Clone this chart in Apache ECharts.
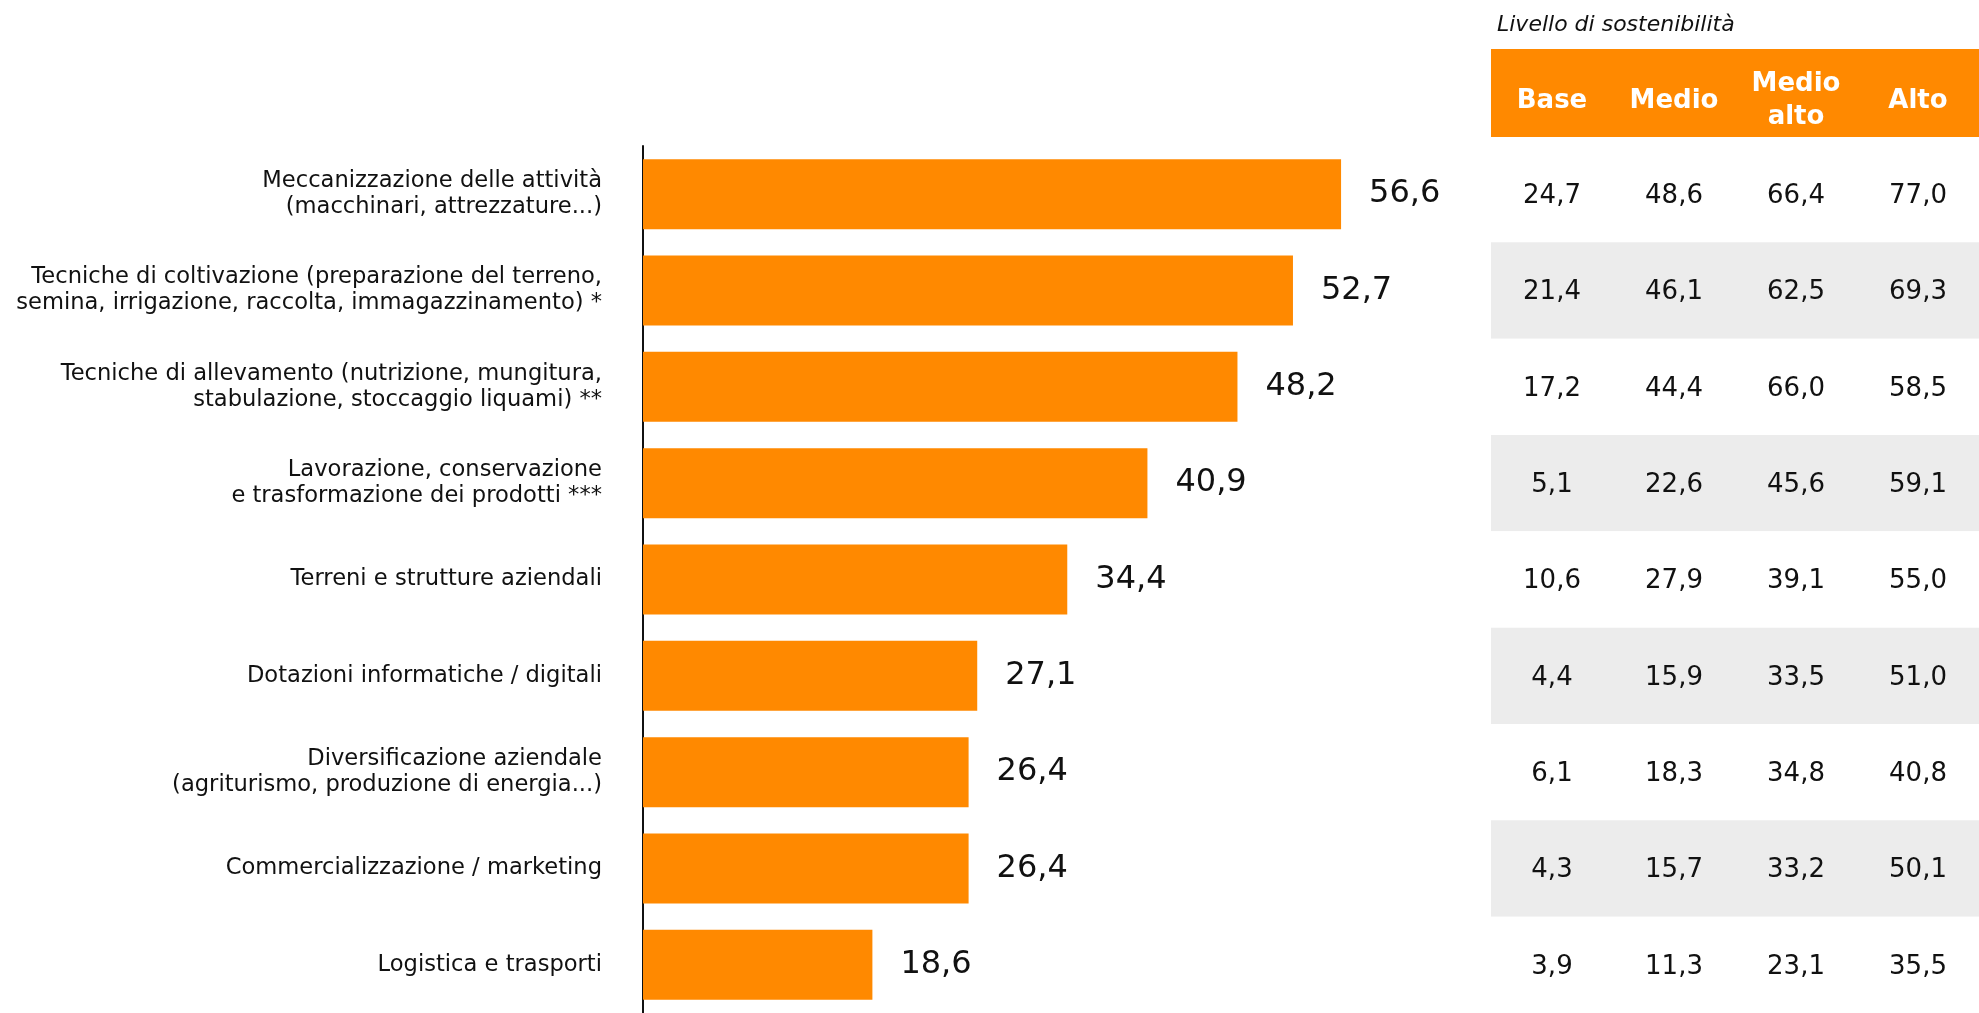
<!DOCTYPE html>
<html lang="it">
<head>
<meta charset="utf-8">
<title>Investimenti per area di intervento</title>
<script src="https://cdn.jsdelivr.net/npm/echarts@6/dist/echarts.min.js"></script>
<style>
  html, body { margin: 0; padding: 0; background: #ffffff; }
  #chart { width: 1979px; height: 1013px; }
</style>
</head>
<body>
<div id="chart"></div>
<script>
// Aree di intervento (dall'alto verso il basso)
const categories = [
  'Meccanizzazione delle attività\n(macchinari, attrezzature...)',
  'Tecniche di coltivazione (preparazione del terreno,\nsemina, irrigazione, raccolta, immagazzinamento) *',
  'Tecniche di allevamento (nutrizione, mungitura,\nstabulazione, stoccaggio liquami) **',
  'Lavorazione, conservazione\ne trasformazione dei prodotti ***',
  'Terreni e strutture aziendali',
  'Dotazioni informatiche / digitali',
  'Diversificazione aziendale\n(agriturismo, produzione di energia...)',
  'Commercializzazione / marketing',
  'Logistica e trasporti'
];

// Valore complessivo (%)
const totalValues = [56.6, 52.7, 48.2, 40.9, 34.4, 27.1, 26.4, 26.4, 18.6];

// Livello di sostenibilità: colonne della tabella
const levelLabels = ['Base', 'Medio', 'Medio\nalto', 'Alto'];
const baseValues = [24.7, 21.4, 17.2, 5.1, 10.6, 4.4, 6.1, 4.3, 3.9];
const medioValues = [48.6, 46.1, 44.4, 22.6, 27.9, 15.9, 18.3, 15.7, 11.3];
const medioAltoValues = [66.4, 62.5, 66.0, 45.6, 39.1, 33.5, 34.8, 33.2, 23.1];
const altoValues = [77.0, 69.3, 58.5, 59.1, 55.0, 51.0, 40.8, 50.1, 35.5];

const tableTitle = 'Livello di sostenibilità';

const ORANGE = '#ff8900';
const TEXT = '#111111';
const FONT = '"DejaVu Sans", sans-serif';

const fmt = v => v.toFixed(1).replace('.', ',');

// Celle della tabella come punti [colonna, riga, valore]
const levelColumns = [baseValues, medioValues, medioAltoValues, altoValues];
const tableCells = [];
levelColumns.forEach((col, ci) => {
  col.forEach((v, ri) => tableCells.push([ci, ri, v]));
});

const chart = echarts.init(document.getElementById('chart'), null, { renderer: 'canvas' });

chart.setOption({
  backgroundColor: '#ffffff',
  animation: false,
  textStyle: { fontFamily: FONT },
  title: {
    text: tableTitle,
    left: 1492,
    top: 9,
    textStyle: { fontFamily: FONT, fontSize: 22, fontStyle: 'italic', fontWeight: 'normal', color: TEXT }
  },
  graphic: [{
    type: 'rect',
    left: 1491,
    top: 49,
    z: -1,
    shape: { width: 488, height: 88 },
    style: { fill: ORANGE }
  }],
  grid: [
    { left: 643, top: 146, width: 740, height: 873, containLabel: false },
    { left: 1491, top: 146, width: 496, height: 873, containLabel: false }
  ],
  xAxis: [
    {
      gridIndex: 0, type: 'value', min: 0, max: 60, show: false
    },
    {
      gridIndex: 1, type: 'category', data: levelLabels, position: 'top', z: 10,
      axisLine: { show: false }, axisTick: { show: false }, splitLine: { show: false },
      axisLabel: {
        color: '#ffffff', fontFamily: FONT, fontSize: 26, fontWeight: 'bold',
        lineHeight: 33, margin: 45, verticalAlign: 'middle', align: 'center'
      }
    }
  ],
  yAxis: [
    {
      gridIndex: 0, type: 'category', data: categories, inverse: true,
      axisLine: { show: true, lineStyle: { color: '#111111', width: 2 } },
      axisTick: { show: false },
      axisLabel: {
        color: TEXT, fontFamily: FONT, fontSize: 22.6, lineHeight: 26,
        align: 'right', margin: 41
      }
    },
    {
      gridIndex: 1, type: 'category', data: categories, inverse: true,
      axisLine: { show: false }, axisTick: { show: false }, axisLabel: { show: false },
      splitLine: { show: false },
      splitArea: { show: true, areaStyle: { color: ['#ffffff', '#ececec'] } }
    }
  ],
  series: [
    {
      type: 'bar',
      xAxisIndex: 0, yAxisIndex: 0,
      data: totalValues,
      barWidth: 70,
      itemStyle: { color: ORANGE },
      label: {
        show: true, position: 'right', distance: 28,
        fontFamily: FONT, fontSize: 32, color: TEXT,
        formatter: p => fmt(p.value)
      }
    },
    {
      type: 'scatter',
      xAxisIndex: 1, yAxisIndex: 1,
      data: tableCells,
      symbolSize: 1,
      itemStyle: { color: 'rgba(0,0,0,0)', opacity: 1 },
      label: {
        show: true, position: 'inside', offset: [0, 2],
        fontFamily: FONT, fontSize: 26, color: TEXT, opacity: 1,
        formatter: p => fmt(p.value[2])
      }
    }
  ]
});
</script>
</body>
</html>
